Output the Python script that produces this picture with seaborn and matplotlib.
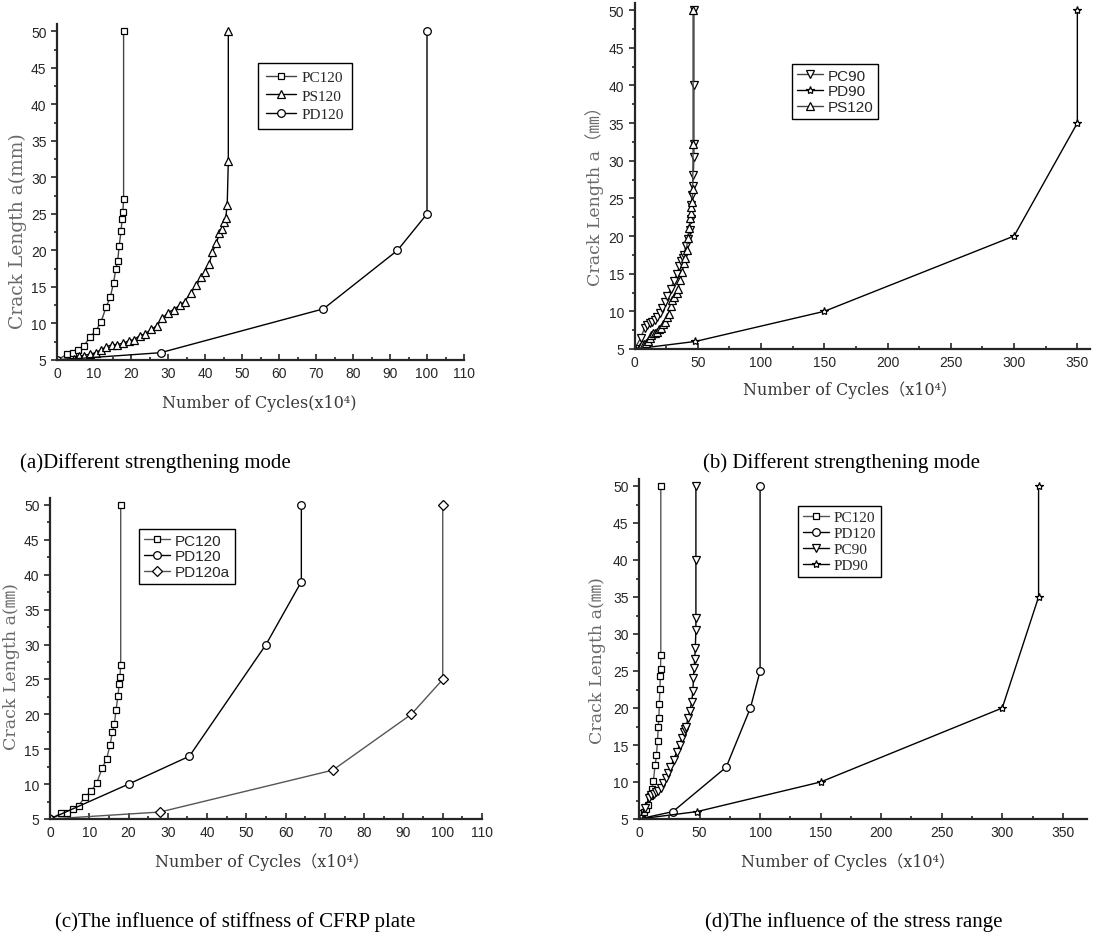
import matplotlib
matplotlib.use('Agg')
import matplotlib.pyplot as plt
from matplotlib.ticker import MultipleLocator
import seaborn as sns

# crack length a (mm) vs number of cycles (x10^4)
pc120_x = [0, 2.8, 4.3, 5.8, 7.3, 8.8, 10.5, 11.9, 13.3, 14.4, 15.3, 15.9, 16.4, 16.8, 17.3, 17.6, 17.8, 18.0, 18.0]
pc120_y = [5, 5.8, 5.9, 6.4, 6.9, 8.1, 9.0, 10.2, 12.3, 13.6, 15.6, 17.5, 18.6, 20.6, 22.6, 24.3, 25.3, 27.1, 50]

ps120_x = [0, 4.5, 5.9, 7.3, 8.8, 10.5, 11.9, 13.3, 14.9, 16.3, 17.8, 19.4, 20.8, 22.3, 23.9, 25.5, 27.0, 28.5,
           30.0, 31.5, 33.2, 34.5, 36.1, 37.7, 39.0, 40.1, 41.1, 42.0, 43.1, 43.9, 44.5, 45.0, 45.6, 46.0, 46.3, 46.3]
ps120_y = [5, 5.2, 5.6, 5.6, 5.8, 6.0, 6.4, 6.8, 7.1, 7.1, 7.3, 7.6, 7.8, 8.3, 8.6, 9.2, 9.7, 10.7,
           11.5, 11.9, 12.5, 13.0, 14.2, 15.2, 16.4, 17.1, 18.1, 19.8, 21.0, 22.4, 23.0, 23.9, 24.5, 26.2, 32.2, 50]

# PD120 in (a)/(d) and PD120a in (c) are the same curve
pd120_x = [0, 28, 72, 92, 100, 100]
pd120_y = [5, 6, 12, 20, 25, 50]

# PD120 as drawn in (c)
pd120c_x = [0, 20, 35.5, 55, 64, 64]
pd120c_y = [5, 10, 14, 30, 39, 50]

pc90_x = [0, 5, 8, 10, 12, 14, 16, 18, 20, 22, 24, 26, 28.5, 31, 33.5, 35.5, 37, 38, 39, 40.5,
          42, 43.5, 44.5, 45, 45.5, 46, 46.5, 47, 47, 47, 47]
pc90_y = [5, 6.5, 7.8, 8.2, 8.4, 8.6, 8.8, 9.2, 9.8, 10.5, 11.2, 12.0, 13.0, 14.0, 15.0, 16.0, 16.7, 17.1, 17.5, 18.7,
          19.6, 20.8, 22.3, 24.1, 25.4, 26.6, 28.1, 30.5, 32.2, 40, 50]

# PD90 as drawn in (b) and in (d)
pd90b_x = [0, 48, 150, 300, 350, 350]
pd90d_x = [0, 48, 150, 300, 330, 330]
pd90_y = [5, 6, 10, 20, 35, 50]

y_ticks = [5, 10, 15, 20, 25, 30, 35, 40, 45, 50]

sns.set_style('ticks')
plt.rcParams['font.family'] = ['Liberation Sans', 'DejaVu Sans']
plt.rcParams['axes.linewidth'] = 1.6

W, H = 1096, 937
fig = plt.figure(figsize=(W / 100, H / 100), dpi=100)

SERIF = ['DejaVu Serif', 'Noto Sans CJK SC']


def add_ax(left, top, right, bottom):
    return fig.add_axes([left / W, 1 - bottom / H, (right - left) / W, (bottom - top) / H])


def draw(ax, series, xmax, xmajor, legend_xy, legend_font, pad=0.3, spacing=0.12, hlen=1.7):
    lines = []
    for name, xs, ys, marker, ms, col in series:
        n = len(ax.lines)
        sns.lineplot(x=xs, y=ys, ax=ax, sort=False, estimator=None, color=col, lw=1.0,
                     marker=marker, markersize=ms, markerfacecolor='white',
                     markeredgecolor='black', markeredgewidth=0.9, legend=False)
        lines += ax.lines[n:]
    ax.set_xlim(0, xmax)
    ax.set_ylim(5, 51)
    ax.set_yticks(y_ticks)
    ax.yaxis.set_minor_locator(MultipleLocator(2.5))
    ax.xaxis.set_major_locator(MultipleLocator(xmajor))
    ax.xaxis.set_minor_locator(MultipleLocator(xmajor / 2))
    ax.tick_params(axis='y', which='both', direction='out', labelsize=10, width=1.2)
    ax.tick_params(axis='y', which='major', length=4)
    ax.tick_params(axis='y', which='minor', length=2.5)
    ax.tick_params(axis='x', which='both', direction='in', labelsize=10, width=1.2, pad=4)
    ax.tick_params(axis='x', which='major', length=4)
    ax.tick_params(axis='x', which='minor', length=2.5)
    sns.despine(ax=ax)
    ax.set_xlabel('')
    ax.set_ylabel('')
    leg = ax.legend(lines, [s[0] for s in series], loc='upper left',
                    bbox_to_anchor=(legend_xy[0] / W, 1 - legend_xy[1] / H),
                    bbox_transform=fig.transFigure, borderaxespad=0,
                    fancybox=False, framealpha=1, edgecolor='black',
                    handlelength=hlen, handletextpad=0.35, labelspacing=spacing,
                    borderpad=pad, prop={'family': legend_font, 'size': 11})
    leg.get_frame().set_linewidth(1.0)


# (a)
ax_a = add_ax(57, 25, 464, 361)
draw(ax_a, [('PC120', pc120_x, pc120_y, 's', 5, '#444444'),
            ('PS120', ps120_x, ps120_y, '^', 5.5, 'black'),
            ('PD120', pd120_x, pd120_y, 'o', 5.5, 'black')],
     110, 10, (258, 64), 'Liberation Serif', pad=0.5, spacing=0.3, hlen=2.0)

# (b)
ax_b = add_ax(634.5, 3.5, 1090, 350)
draw(ax_b, [('PC90', pc90_x, pc90_y, 'v', 5.5, '#444444'),
            ('PD90', pd90b_x, pd90_y, '*', 6, 'black'),
            ('PS120', ps120_x, ps120_y, '^', 5.5, '#444444')],
     360, 50, (792, 65), 'Liberation Sans')

# (c)
ax_c = add_ax(50, 499, 482, 820)
draw(ax_c, [('PC120', pc120_x, pc120_y, 's', 5, '#555555'),
            ('PD120', pd120c_x, pd120c_y, 'o', 5.5, 'black'),
            ('PD120a', pd120_x, pd120_y, 'D', 5, '#555555')],
     110, 10, (139, 530), 'Liberation Sans')

# (d)
ax_d = add_ax(639, 479.6, 1087, 820)
draw(ax_d, [('PC120', pc120_x, pc120_y, 's', 5, '#555555'),
            ('PD120', pd120_x, pd120_y, 'o', 5.5, 'black'),
            ('PC90', pc90_x, pc90_y, 'v', 5.5, 'black'),
            ('PD90', pd90d_x, pd90_y, '*', 6, 'black')],
     370, 50, (798, 507), 'Liberation Serif', spacing=0.15)

# axis titles
ylab_kw = dict(rotation=90, ha='center', va='center', color='#6a6a6a', family=SERIF)
xlab_kw = dict(ha='center', va='center', color='#3a3a3a', family=SERIF, fontsize=11.5)
fig.text(18 / W, 1 - 231 / H, 'Crack Length a(mm)', fontsize=13.5, **ylab_kw)
fig.text(259 / W, 1 - 403 / H, 'Number of Cycles(x10⁴)', **xlab_kw)
fig.text(595 / W, 1 - 192 / H, 'Crack Length a（㎜）', fontsize=12.5, **ylab_kw)
fig.text(850 / W, 1 - 390 / H, 'Number of Cycles（x10⁴）', **xlab_kw)
fig.text(12 / W, 1 - 667 / H, 'Crack Length a(㎜)', fontsize=12.5, **ylab_kw)
fig.text(262 / W, 1 - 862 / H, 'Number of Cycles（x10⁴）', **xlab_kw)
fig.text(597 / W, 1 - 661 / H, 'Crack Length a(㎜)', fontsize=12.5, **ylab_kw)
fig.text(848 / W, 1 - 862 / H, 'Number of Cycles（x10⁴）', **xlab_kw)

# captions
cap_kw = dict(ha='left', va='center', family='Liberation Serif', fontsize=15, color='black')
fig.text(20 / W, 1 - 463 / H, '(a)Different strengthening mode', **cap_kw)
fig.text(703 / W, 1 - 463 / H, '(b) Different strengthening mode', **cap_kw)
fig.text(55 / W, 1 - 922 / H, '(c)The influence of stiffness of CFRP plate', **cap_kw)
fig.text(705 / W, 1 - 922 / H, '(d)The influence of the stress range', **cap_kw)

fig.savefig('out.png', dpi=100)
